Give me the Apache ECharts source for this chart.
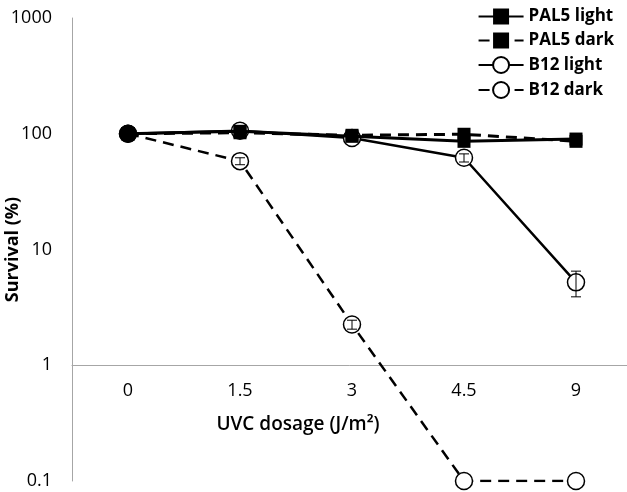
<!DOCTYPE html>
<html>
<head>
<meta charset="utf-8">
<script src="https://cdn.jsdelivr.net/npm/echarts@6/dist/echarts.min.js"></script>
<style>
html,body{margin:0;padding:0;background:#fff;}
#c{width:627px;height:492px;}
</style>
</head>
<body>
<div id="c"></div>
<script>
const categories = ['0', '1.5', '3', '4.5', '9'];
const pal5Light = [100, 105, 95, 86, 90];
const pal5Dark = [100, 102, 97, 99, 86];
const b12Light = [100, 106, 92, 62, 5.2];
const b12Dark = [100, 58, 2.25, 0.1, 0.1];
const pal5LightErr = [0, 3, 3, 4, 5];
const pal5DarkErr = [0, 3, 3, 4, 8];
const b12LightErr = [0, 4, 4, 5, 1.3];
const b12DarkErr = [0, 4, 0.2, 0, 0];
const yTickLabels = {0.1: '0.1', 1: '1', 10: '10', 100: '100', 1000: '1000'};

const FONT = 'Open Sans';
const chart = echarts.init(document.getElementById('c'));

function errData(vals, errs) {
  return vals.map((v, i) => [i, Math.max(v - errs[i], 0.1), v + errs[i]]).filter((d, i) => errs[i] > 0);
}
const allErr = [].concat(
  errData(pal5Light, pal5LightErr),
  errData(pal5Dark, pal5DarkErr),
  errData(b12Light, b12LightErr),
  errData(b12Dark, b12DarkErr)
);

const dash = [11, 7];
const option = {
  animation: false,
  backgroundColor: '#fff',
  grid: {left: 72, top: 18, width: 560, height: 463, containLabel: false, outerBoundsMode: 'none'},
  legend: {
    data: ['PAL5 light', 'PAL5 dark', 'B12 light', 'B12 dark'],
    orient: 'vertical', right: 8, top: 3,
    itemWidth: 45, itemHeight: 20, itemGap: 7,
    textStyle: {fontFamily: FONT, fontWeight: 'bold', fontSize: 17, color: '#000'}
  },
  xAxis: {
    type: 'category', data: categories, boundaryGap: true,
    offset: 0,
    axisLine: {lineStyle: {color: '#a6a6a6', width: 1}},
    axisTick: {show: false},
    axisLabel: {fontFamily: FONT, fontSize: 18, color: '#000', margin: 17},
    name: 'UVC dosage (J/m²)', nameLocation: 'middle', nameGap: 50, nameMoveOverlap: false,
    nameTextStyle: {fontFamily: FONT, fontSize: 19, fontWeight: 600, color: '#000', padding: [0, 108, 0, 0]}
  },
  yAxis: {
    type: 'log', logBase: 10, min: 0.1, max: 1000,
    axisLine: {show: true, lineStyle: {color: '#a6a6a6', width: 1}},
    axisTick: {show: false},
    splitLine: {show: false},
    axisLabel: {fontFamily: FONT, fontSize: 18, color: '#000', margin: 20,
      formatter: v => yTickLabels[v] !== undefined ? yTickLabels[v] : String(v)},
    name: 'Survival (%)', nameLocation: 'middle', nameGap: 50, nameRotate: 90, nameMoveOverlap: false,
    nameTextStyle: {fontFamily: FONT, fontSize: 18, fontWeight: 'bold', color: '#000'}
  },
  series: [
    {name: 'PAL5 light', type: 'line', data: pal5Light, z: 4,
      symbol: 'rect', symbolSize: 13,
      itemStyle: {color: '#000'}, lineStyle: {color: '#000', width: 3}},
    {name: 'PAL5 dark', type: 'line', data: pal5Dark, z: 4,
      symbol: 'rect', symbolSize: 13,
      itemStyle: {color: '#000'}, lineStyle: {color: '#000', width: 3, type: dash}},
    {name: 'B12 light', type: 'line', data: b12Light.map((v, i) => i === 0 ? {value: v, itemStyle: {color: '#000'}} : v), z: 3,
      symbol: 'circle', symbolSize: 17,
      itemStyle: {color: '#fff', borderColor: '#000', borderWidth: 1.5}, lineStyle: {color: '#000', width: 2.5}},
    {name: 'B12 dark', type: 'line', data: b12Dark.map((v, i) => i === 0 ? {value: v, itemStyle: {color: '#000'}} : v), z: 3,
      symbol: 'circle', symbolSize: 17,
      itemStyle: {color: '#fff', borderColor: '#000', borderWidth: 1.5}, lineStyle: {color: '#000', width: 2.5, type: dash}},
    {name: 'err', type: 'custom', z: 5, data: allErr,
      renderItem: function (params, api) {
        const lo = api.coord([api.value(0), api.value(1)]);
        const hi = api.coord([api.value(0), api.value(2)]);
        const w = 5;
        return {type: 'group', children: [
          {type: 'line', shape: {x1: lo[0], y1: lo[1], x2: hi[0], y2: hi[1]}, style: {stroke: '#000', lineWidth: 1}},
          {type: 'line', shape: {x1: lo[0] - w, y1: lo[1], x2: lo[0] + w, y2: lo[1]}, style: {stroke: '#000', lineWidth: 1}},
          {type: 'line', shape: {x1: hi[0] - w, y1: hi[1], x2: hi[0] + w, y2: hi[1]}, style: {stroke: '#000', lineWidth: 1}}
        ]};
      }}
  ]
};
chart.setOption(option);
// place the category axis line where survival = 1 %
const yOne = chart.convertToPixel({yAxisIndex: 0}, 1);
const yBottom = chart.convertToPixel({yAxisIndex: 0}, 0.1);
chart.setOption({xAxis: {offset: yOne - yBottom}});
</script>
</body>
</html>
